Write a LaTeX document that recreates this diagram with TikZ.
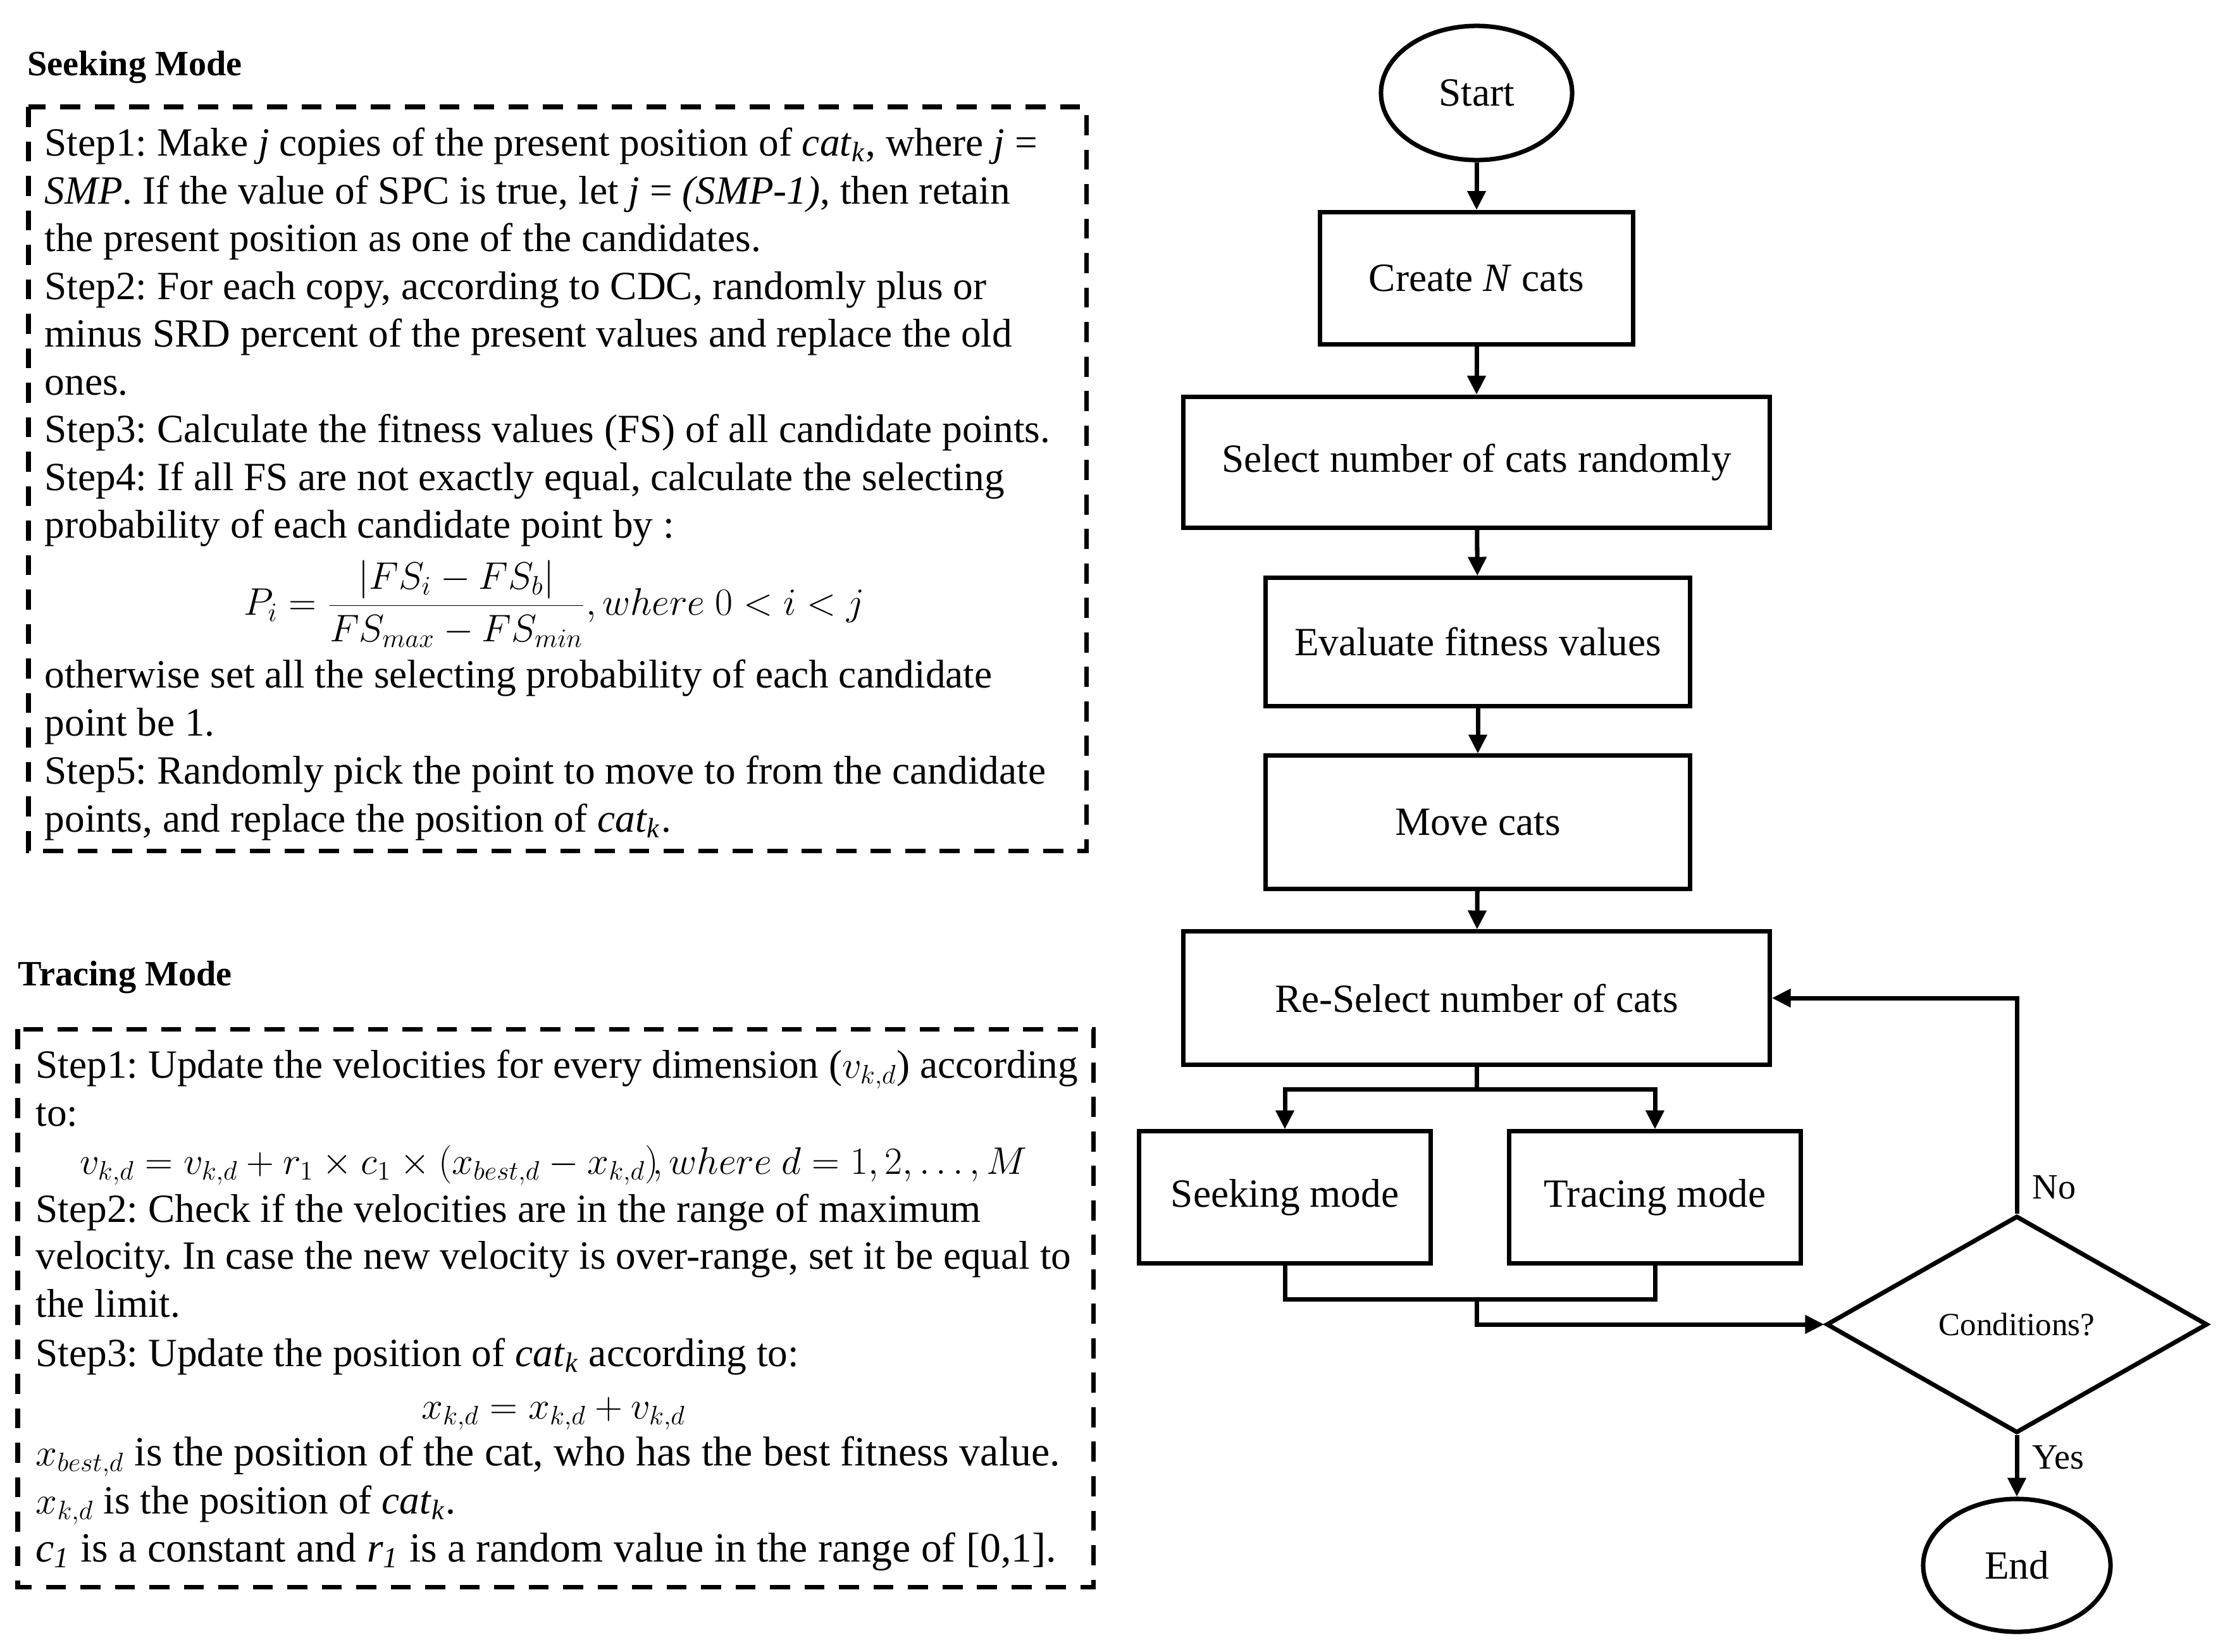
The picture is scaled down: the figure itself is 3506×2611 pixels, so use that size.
\documentclass[tikz,border=0pt]{standalone}
\usepackage{fontspec}
\setmainfont{Liberation Serif}
\usetikzlibrary{arrows.meta,shapes.geometric}
\frenchspacing
\newcommand\bigtxt{\fontsize{18}{21.6}\selectfont\frenchspacing}
\newcommand\widetxt{\fontsize{18.7}{22.4}\selectfont\frenchspacing}
\newcommand\labtxt{\fontsize{16}{19.2}\selectfont}
\newcommand\condtxt{\fontsize{14.5}{17.4}\selectfont}
\tikzset{
  txt/.style={anchor=base west, inner sep=0pt, font=\bigtxt},
  fml/.style={inner sep=0pt, font=\bigtxt},
  head/.style={anchor=base west, inner sep=0pt, font=\labtxt\bfseries},
  dbox/.style={line width=2pt, dash pattern=on 9pt off 6.5pt},
  fbox/.style={draw, line width=2pt, rectangle, inner sep=0pt, font=\bigtxt},
  oval/.style={draw, line width=2pt, ellipse, inner sep=0pt, font=\bigtxt},
  arr/.style={line width=2pt, -{Triangle[length=8.5pt,width=8pt]}},
  plain/.style={line width=2pt},
  yn/.style={anchor=west, inner sep=0pt, font=\labtxt}
}
\begin{document}
\begin{tikzpicture}[x=0.01cm,y=-0.01cm]
\useasboundingbox (0,0) rectangle (3506,2611);

% ---------- Seeking mode text ----------
\node[head] (sh) at (43,119) {Seeking Mode};
\draw[dbox] (45,169) rectangle (1717,1345);
\node[txt] (s1) at (70,246) {Step1: Make \textit{j} copies of the present position of \textit{cat}\textsubscript{\textit{k}}, where \textit{j} =};
\node[txt] (s2) at (70,322) {\textit{SMP}. If the value of SPC is true, let \textit{j} = \textit{(SMP-1)}, then retain};
\node[txt] (s3) at (70,397) {the present position as one of the candidates.};
\node[txt] (s4) at (70,473) {Step2: For each copy, according to CDC, randomly plus or};
\node[txt] (s5) at (70,548) {minus SRD percent of the present values and replace the old};
\node[txt] (s6) at (70,624) {ones.};
\node[txt] (s7) at (70,699) {Step3: Calculate the fitness values (FS) of all candidate points.};
\node[txt] (s8) at (70,775) {Step4: If all FS are not exactly equal, calculate the selecting};
\node[txt] (s9) at (70,850) {probability of each candidate point by :};
\node[fml] (sf) at (876,955) {$\displaystyle P_i=\frac{|FS_i-FS_b|}{FS_{max}-FS_{min}},where\ 0<i<j$};
\node[txt] (s10) at (70,1087) {otherwise set all the selecting probability of each candidate};
\node[txt] (s11) at (70,1163) {point be 1.};
\node[txt] (s12) at (70,1239) {Step5: Randomly pick the point to move to from the candidate};
\node[txt] (s13) at (70,1315) {points, and replace the position of \textit{cat}\textsubscript{\textit{k}}.};

% ---------- Tracing mode text ----------
\node[head] (th) at (28,1558) {Tracing Mode};
\draw[dbox] (28,1627) rectangle (1728,2509);
\node[txt] (t1) at (56,1704) {Step1: Update the velocities for every dimension ($v_{k,d}$) according};
\node[txt] (t2) at (56,1780) {to:};
\node[fml, anchor=base] (tf1) at (875,1856) {$v_{k,d}=v_{k,d}+r_1\times c_1\times\bigl(x_{best,d}-x_{k,d}\bigr)\!,where\ d=1,2,\ldots,M$};
\node[txt] (t3) at (56,1932) {Step2: Check if the velocities are in the range of maximum};
\node[txt] (t4) at (56,2006) {velocity. In case the new velocity is over-range, set it be equal to};
\node[txt] (t5) at (56,2082) {the limit.};
\node[txt] (t6) at (56,2160) {Step3: Update the position of \textit{cat}\textsubscript{\textit{k}} according to:};
\node[fml, anchor=base] (tf2) at (875,2243) {$x_{k,d}=x_{k,d}+v_{k,d}$};
\node[txt, font=\widetxt] (t7) at (56,2317) {$x_{best,d}$ is the position of the cat, who has the best fitness value.};
\node[txt] (t8) at (56,2393) {$x_{k,d}$ is the position of \textit{cat}\textsubscript{\textit{k}}.};
\node[txt, font=\widetxt] (t9) at (56,2469) {\textit{c}\textsubscript{\textit{1}} is a constant and \textit{r}\textsubscript{\textit{1}} is a random value in the range of [0,1].};

% ---------- Flowchart ----------
\node[oval, minimum width=3.02cm, minimum height=2.12cm] (start) at (2334,147) {Start};
\node[fbox, minimum width=4.94cm, minimum height=2.09cm] (create) at (2334,440) {Create \textit{N} cats};
\node[fbox, minimum width=9.26cm, minimum height=2.07cm] (select) at (2334,731) {Select number of cats randomly};
\node[fbox, minimum width=6.7cm, minimum height=2.02cm] (eval) at (2336,1015) {Evaluate fitness values};
\node[fbox, minimum width=6.7cm, minimum height=2.1cm] (move) at (2336,1300) {Move cats};
\node[fbox, minimum width=9.26cm, minimum height=2.1cm] (resel) at (2334,1578) {Re-Select number of cats};
\node[fbox, minimum width=4.6cm, minimum height=2.08cm] (seek) at (2031,1893) {Seeking mode};
\node[fbox, minimum width=4.6cm, minimum height=2.08cm] (trace) at (2616,1893) {Tracing mode};
\node[draw, line width=2pt, diamond, inner sep=0pt, minimum width=6.02cm, minimum height=3.43cm, font=\condtxt] (cond) at (3188,2094) {Conditions?};
\node[oval, minimum width=2.96cm, minimum height=2.1cm] (end) at (3188,2475) {End};

\coordinate (br) at (2334,1722);
\coordinate (mg) at (2334,2054);

\draw[arr] (start) -- (create);
\draw[arr] (create) -- (select);
\draw[arr] (select) -- (eval);
\draw[arr] (eval) -- (move);
\draw[arr] (move) -- (resel);
\draw[plain] (resel.south) -- (br);
\draw[arr] (br) -| (seek.north);
\draw[arr] (br) -| (trace.north);
\draw[plain] (seek.south) |- (mg) -| (trace.south);
\draw[arr] (mg) |- (cond.west);
\draw[arr] (cond.north) |- (resel.east);
\draw[arr] (cond.south) -- (end);
\node[yn] (no) at (3212,1877) {No};
\node[yn] (yes) at (3212,2304) {Yes};
\end{tikzpicture}
\end{document}
